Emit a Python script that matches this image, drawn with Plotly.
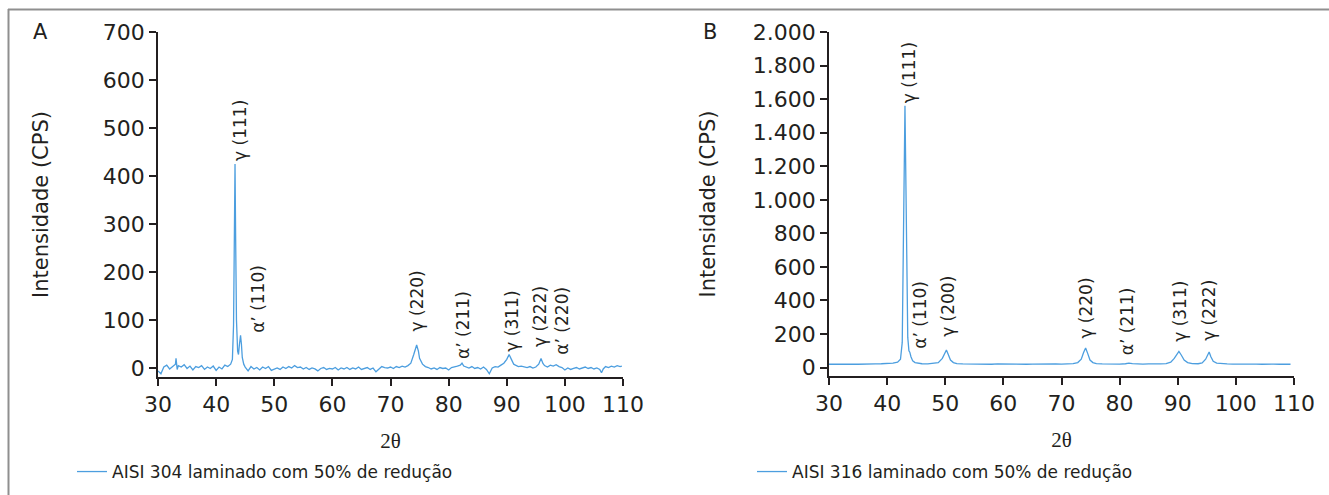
import plotly.graph_objects as go

# ---------------- data ----------------
theta_a = [30.0, 30.5, 31.0, 31.5, 32.0, 32.5, 33.0, 33.1, 33.3, 33.5, 34.0, 34.5, 35.0, 35.5, 36.0, 36.5,
           37.0, 37.5, 38.0, 38.5, 39.0, 39.5, 40.0, 40.5, 41.0, 41.5, 42.0, 42.5, 42.8, 43.0, 43.15, 43.25,
           43.35, 43.5, 43.7, 43.85, 44.0, 44.2, 44.35, 44.5, 44.75, 45.0, 45.5, 46.0, 46.5, 47.0, 47.5, 48.0,
           48.5, 49.0, 49.5, 50.0, 50.5, 51.0, 51.5, 52.0, 52.5, 53.0, 53.5, 54.0, 54.5, 55.0, 55.5, 56.0,
           56.5, 57.0, 57.5, 58.0, 58.5, 59.0, 59.5, 60.0, 60.5, 61.0, 61.5, 62.0, 62.5, 63.0, 63.5, 64.0,
           64.5, 65.0, 65.5, 66.0, 66.5, 67.0, 67.5, 68.0, 68.5, 69.0, 69.5, 70.0, 70.5, 71.0, 71.5, 72.0,
           72.5, 73.0, 73.5, 74.0, 74.5, 74.8, 75.0, 75.5, 76.0, 76.5, 77.0, 77.5, 78.0, 78.5, 79.0, 79.5,
           80.0, 80.5, 81.0, 81.5, 82.0, 82.3, 82.6, 83.0, 83.5, 84.0, 84.5, 85.0, 85.5, 86.0, 86.5, 87.0,
           87.5, 88.0, 88.5, 89.0, 89.5, 90.0, 90.4, 90.8, 91.2, 91.5, 92.0, 92.5, 93.0, 93.5, 94.0, 94.5,
           95.0, 95.5, 95.9, 96.2, 96.5, 97.0, 97.5, 98.0, 98.5, 99.0, 99.5, 100.0, 100.5, 101.0, 101.5, 102.0,
           102.5, 103.0, 103.5, 104.0, 104.5, 105.0, 105.5, 106.0, 106.3, 106.6, 107.0, 107.5, 108.0, 108.5,
           109.0, 109.5, 109.8]
cps_a = [-6, -12, 2, 6, -2, 4, 8, 20, -3, 5, 2, 7, -1, 4, -4, 3,
         1, 5, -3, 2, -1, 4, -5, 2, -2, 6, 3, 8, 18, 90, 270, 425,
         280, 100, 35, 28, 48, 68, 50, 22, 8, 2, -6, 3, -2, 1, -4, 2,
         -1, 3, -5, -2, 0, -3, 2, -1, 3, 0, 5, 1, 2, -2, 1, -3,
         0, -2, -6, -1, 1, -3, -1, -2, 1, -4, 0, -2, 1, -3, 0, -2,
         2, -3, -1, 1, -3, 0, -8, -2, 3, 1, 0, 2, -1, 3, 1, 4,
         2, 5, 10, 28, 48, 35, 20, 8, 3, 1, -2, 0, -3, 1, -1, 0,
         -4, 1, 2, 4, 6, 10, 4, 2, 0, 3, -1, 1, -2, 2, -3, -12,
         0, 3, 2, 6, 10, 18, 28, 18, 8, 6, 3, 4, 2, 1, 3, 0,
         2, 8, 20, 10, 5, 2, 6, 4, 7, 3, 1, -4, 0, -3, -1, 1,
         -2, 0, 2, -1, 1, -2, 0, -3, -10, -2, 3, 1, 4, 2,
         5, 3, 4]

theta_b = [30, 31, 32, 33, 34, 35, 36, 37, 38, 39, 40, 41, 41.8, 42.3, 42.6, 42.8, 42.95, 43.07, 43.2, 43.35,
           43.55, 43.75, 43.9, 44.1, 44.4, 44.8, 45.5, 46, 47, 48, 48.8, 49.5, 49.9, 50.2, 50.5, 50.9, 51.4,
           52, 53, 54, 55, 56, 57, 58, 59, 60, 61, 62, 63, 64, 65, 66, 67, 68, 69, 70, 71, 72, 72.8, 73.4,
           73.8, 74.15, 74.5, 74.9, 75.4, 76, 77, 78, 79, 80, 81, 81.6, 82.2, 83, 84, 85, 86, 87, 88, 88.8,
           89.4, 89.9, 90.2, 90.6, 91.1, 91.7, 92.5, 93.5, 94.2, 94.8, 95.2, 95.4, 95.7, 96.1, 96.7, 97.5,
           98.5, 99.5, 100.5, 101.5, 102.5, 103.5, 104.5, 105.5, 106.5, 107.5, 108.5, 109.4]
cps_b = [20, 21, 19, 20, 21, 20, 22, 21, 22, 23, 24, 27, 32, 50, 150, 600, 1200, 1560, 1150, 500,
         180, 100, 92, 65, 40, 30, 25, 23, 22, 24, 30, 55, 90, 105, 80, 45, 30,
         24, 22, 21, 22, 20, 21, 20, 22, 21, 20, 22, 21, 20, 21, 22, 20, 21, 22, 21, 22, 24, 30, 50,
         90, 117, 85, 45, 30, 24, 22, 21, 22, 21, 23, 27, 24, 22, 21, 22, 21, 22, 24, 32,
         55, 85, 97, 75, 45, 30, 24, 23, 28, 50, 85, 93, 65, 38, 27, 23,
         22, 21, 22, 21, 22, 21, 20, 22, 21, 20, 21, 20]

# peak labels: text, 2theta position, intensity position (label centre)
labels_a = ["γ (111)", "α’ (110)", "γ (220)", "α’ (211)", "γ (311)", "γ (222)", "α’ (220)"]
label_x_a = [44.1, 47.2, 74.5, 82.5, 90.85, 95.7, 99.45]
label_y_a = [496, 144, 140, 90, 98, 108, 98]

labels_b = ["γ (111)", "α’ (110)", "γ (200)", "γ (220)", "α’ (211)", "γ (311)", "γ (222)"]
label_x_b = [43.8, 45.65, 50.5, 74.2, 81.2, 90.4, 95.4]
label_y_b = [1756, 315, 363, 357, 274, 333, 339]

x_ticks = [30, 40, 50, 60, 70, 80, 90, 100, 110]
y_ticks_a = [0, 100, 200, 300, 400, 500, 600, 700]
y_ticks_b = [0, 200, 400, 600, 800, 1000, 1200, 1400, 1600, 1800, 2000]
y_tick_text_b = ["0", "200", "400", "600", "800", "1.000", "1.200", "1.400", "1.600", "1.800", "2.000"]

series_names = ["AISI 304 laminado com 50% de redução", "AISI 316 laminado com 50% de redução"]

# ---------------- figure ----------------
W, H = 1329, 495
FONT = "DejaVu Sans"
TXT = "#231f20"
LINE = "#4c9edf"

fig = go.Figure()
fig.add_trace(go.Scatter(x=theta_a, y=cps_a, mode="lines", name=series_names[0],
                         line=dict(color=LINE, width=1.3), xaxis="x", yaxis="y", legend="legend"))
fig.add_trace(go.Scatter(x=theta_b, y=cps_b, mode="lines", name=series_names[1],
                         line=dict(color=LINE, width=1.3), xaxis="x2", yaxis="y2", legend="legend2"))


def px_x(p):
    return p / W


def px_y(p):
    return 1 - p / H


axis_common = dict(showline=True, linecolor="#231f20", linewidth=1.5, ticks="outside", ticklen=7,
                   tickcolor="#231f20", tickwidth=1.5, showgrid=False, zeroline=False,
                   tickfont=dict(family=FONT, size=22, color=TXT), automargin=False)

fig.update_layout(
    width=W, height=H,
    margin=dict(l=0, r=0, t=0, b=0),
    paper_bgcolor="white", plot_bgcolor="white",
    font=dict(family=FONT, color=TXT),
    xaxis=dict(domain=[px_x(158), px_x(623)], range=[30, 110], tickvals=x_ticks, anchor="y",
               title=dict(text="2θ", font=dict(family="Liberation Serif", size=21, color=TXT), standoff=17),
               **axis_common),
    yaxis=dict(domain=[px_y(377), px_y(32)], range=[-18.75, 700], tickvals=y_ticks_a, anchor="x",
               title=dict(text="Intensidade (CPS)", font=dict(family=FONT, size=21, color=TXT), standoff=48),
               **axis_common),
    xaxis2=dict(domain=[px_x(829), px_x(1294)], range=[30, 110], tickvals=x_ticks, anchor="y2",
                title=dict(text="2θ", font=dict(family="Liberation Serif", size=21, color=TXT), standoff=17),
                **axis_common),
    yaxis2=dict(domain=[px_y(376), px_y(32)], range=[-50, 2000], tickvals=y_ticks_b, ticktext=y_tick_text_b,
                anchor="x2",
                title=dict(text="Intensidade (CPS)", font=dict(family=FONT, size=21, color=TXT), standoff=32),
                **axis_common),
    legend=dict(x=px_x(72), y=px_y(472), xanchor="left", yanchor="middle", orientation="h",
                font=dict(family=FONT, size=17, color=TXT), bgcolor="rgba(0,0,0,0)"),
    legend2=dict(x=px_x(752), y=px_y(472), xanchor="left", yanchor="middle", orientation="h",
                 font=dict(family=FONT, size=17, color=TXT), bgcolor="rgba(0,0,0,0)"),
    showlegend=True,
)

for t, xv, yv in zip(labels_a, label_x_a, label_y_a):
    fig.add_annotation(x=xv, y=yv, xref="x", yref="y", text=t, textangle=-90, showarrow=False,
                       xanchor="center", yanchor="middle",
                       font=dict(family=FONT, size=17, color=TXT))
for t, xv, yv in zip(labels_b, label_x_b, label_y_b):
    fig.add_annotation(x=xv, y=yv, xref="x2", yref="y2", text=t, textangle=-90, showarrow=False,
                       xanchor="center", yanchor="middle",
                       font=dict(family=FONT, size=17, color=TXT))

# panel letters
fig.add_annotation(x=px_x(40), y=px_y(32), xref="paper", yref="paper", text="A", showarrow=False,
                   xanchor="center", yanchor="middle", font=dict(family=FONT, size=21, color=TXT))
fig.add_annotation(x=px_x(710), y=px_y(32), xref="paper", yref="paper", text="B", showarrow=False,
                   xanchor="center", yanchor="middle", font=dict(family=FONT, size=21, color=TXT))

# frame (top and left edges)
fig.add_shape(type="line", xref="paper", yref="paper", x0=px_x(8), x1=1, y0=px_y(9.5), y1=px_y(9.5),
              line=dict(color="#8f8f8f", width=2))
fig.add_shape(type="line", xref="paper", yref="paper", x0=px_x(8.5), x1=px_x(8.5), y0=px_y(9), y1=0,
              line=dict(color="#8f8f8f", width=2))

fig.write_html("out.html")
